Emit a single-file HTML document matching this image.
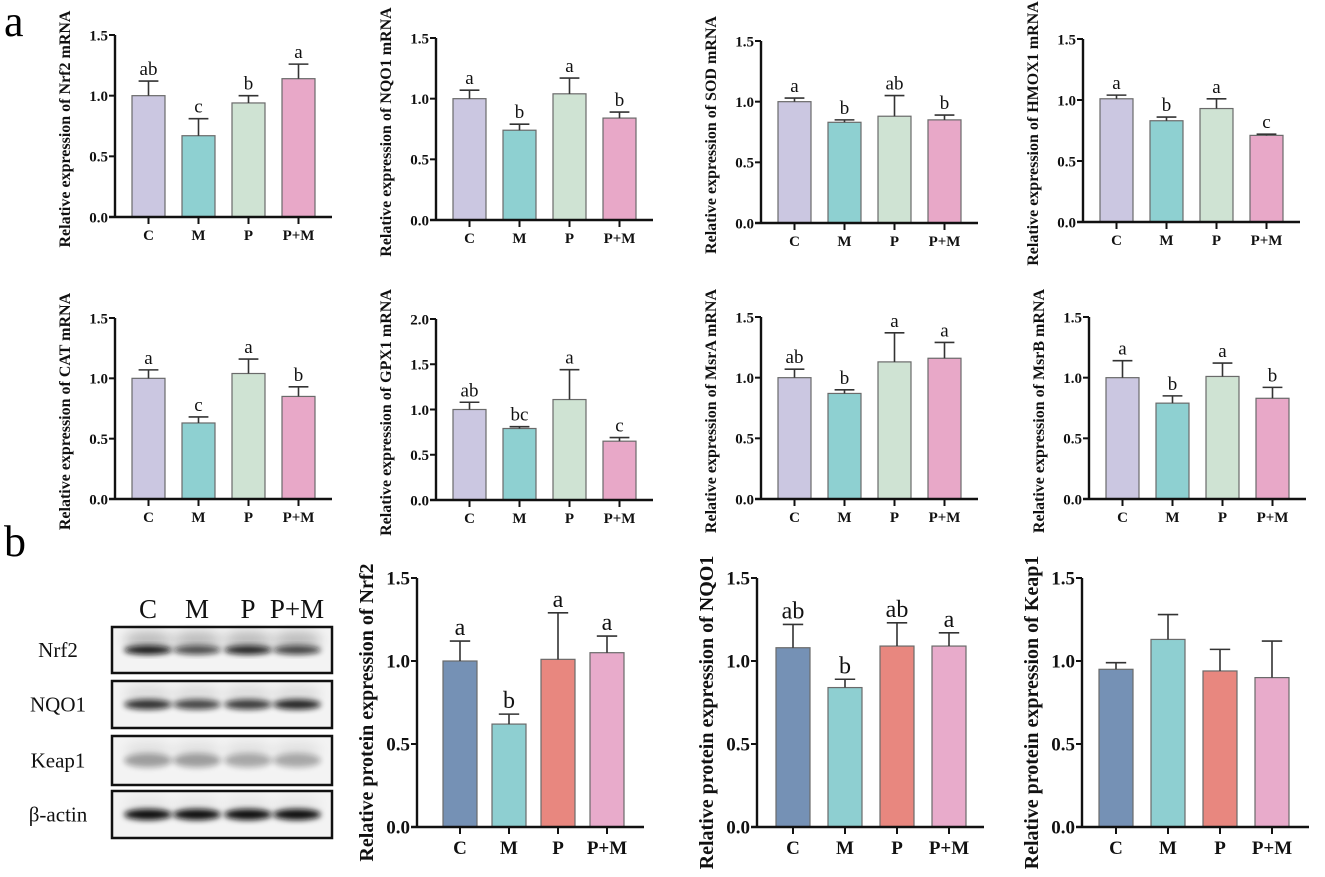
<!DOCTYPE html>
<html><head><meta charset="utf-8">
<style>
html,body{margin:0;padding:0;background:#fff;}
svg{display:block;}
text{font-family:"Liberation Serif",serif;}
</style></head>
<body>
<svg id="fig" width="1325" height="877" viewBox="0 0 1325 877" xmlns="http://www.w3.org/2000/svg">
<defs>
<filter id="blur" x="-20%" y="-50%" width="140%" height="200%"><feGaussianBlur stdDeviation="3"/></filter>
<filter id="blur2" x="-20%" y="-50%" width="140%" height="200%"><feGaussianBlur stdDeviation="6"/></filter>
</defs>
<text x="4" y="36" font-size="44">a</text>
<text x="4" y="556" font-size="44">b</text>
<g id="blot"></g>
<g id="charts"></g>
</svg>
<script>
const categories = ["C","M","P","P+M"];
const nrf2Vals = [1.0,0.67,0.94,1.14], nrf2Err = [0.12,0.14,0.06,0.12], nrf2Let = ["ab","c","b","a"];
const nqo1Vals = [1.0,0.74,1.04,0.84], nqo1Err = [0.07,0.05,0.13,0.05], nqo1Let = ["a","b","a","b"];
const sodVals = [1.0,0.83,0.88,0.85], sodErr = [0.03,0.02,0.17,0.04], sodLet = ["a","b","ab","b"];
const hmoxVals = [1.01,0.83,0.93,0.71], hmoxErr = [0.03,0.03,0.08,0.01], hmoxLet = ["a","b","a","c"];
const catVals = [1.0,0.63,1.04,0.85], catErr = [0.07,0.05,0.12,0.08], catLet = ["a","c","a","b"];
const gpxVals = [1.0,0.79,1.11,0.65], gpxErr = [0.08,0.02,0.33,0.04], gpxLet = ["ab","bc","a","c"];
const msraVals = [1.0,0.87,1.13,1.16], msraErr = [0.07,0.03,0.24,0.13], msraLet = ["ab","b","a","a"];
const msrbVals = [1.0,0.79,1.01,0.83], msrbErr = [0.14,0.06,0.11,0.09], msrbLet = ["a","b","a","b"];
const pNrf2Vals = [1.0,0.62,1.01,1.05], pNrf2Err = [0.12,0.06,0.28,0.10], pNrf2Let = ["a","b","a","a"];
const pNqo1Vals = [1.08,0.84,1.09,1.09], pNqo1Err = [0.14,0.05,0.14,0.08], pNqo1Let = ["ab","b","ab","a"];
const keapVals = [0.95,1.13,0.94,0.90], keapErr = [0.04,0.15,0.13,0.22], keapLet = ["","","",""];
const ticks15 = ["0.0","0.5","1.0","1.5"];
const ticks20 = ["0.0","0.5","1.0","1.5","2.0"];

const NS = "http://www.w3.org/2000/svg";
const mColors = ["#cbc7e1","#8ed0d1","#cfe3d3","#e8a8c8"];
const pColors = ["#7591b5","#8ecfd1","#e8877f","#e8abcb"];
function mk(tag, attrs, parent){const e=document.createElementNS(NS,tag);for(const k in attrs)e.setAttribute(k,attrs[k]);parent.appendChild(e);return e;}

function panel(o){
  const root=document.getElementById('charts');
  const g=mk('g',{},root);
  
  
  const ymax=parseFloat(o.ticks[o.ticks.length-1]);
  const y=v=>o.zero-(v/ymax)*(o.zero-o.top);
  const xBar=i=>o.ax+o.off+i*o.pitch;
  o.vals.forEach((v,i)=>{
    const x=xBar(i), cx=x+o.bw/2, yt=y(v), ye=y(v+o.err[i]);
    const b=mk('rect',{x:x,y:yt,width:o.bw,height:o.zero-yt,fill:o.colors[i],stroke:"#6a6a6a","stroke-width":1.2},g);
    
    
    const el=mk('path',{d:`M${cx} ${yt}V${ye}M${cx-o.bw*0.3} ${ye}H${cx+o.bw*0.3}`,stroke:"#333","stroke-width":1.6,fill:"none"},g);
    
    
    if(o.lets[i]){
      const t=mk('text',{x:cx,y:ye-6,"font-size":o.lf,"text-anchor":"middle",fill:"#111"},g);
      t.textContent=o.lets[i];
      
      
    }
    const tk=mk('line',{x1:cx,y1:o.zero,x2:cx,y2:o.zero+7,stroke:"#111","stroke-width":2},g);
    
    
    const ct=mk('text',{x:cx,y:o.zero+o.cf+8,"font-size":o.cf,"font-weight":"bold","text-anchor":"middle",fill:"#111"},g);
    ct.textContent=categories[i];
    
    
  });
  const ya=mk('line',{x1:o.ax,y1:o.top,x2:o.ax,y2:o.zero+1,stroke:"#111","stroke-width":2.4},g);
  
  
  const xa=mk('line',{x1:o.ax-6,y1:o.zero,x2:o.end,y2:o.zero,stroke:"#111","stroke-width":2.4},g);
  
  
  o.ticks.forEach(tl=>{
    const yy=y(parseFloat(tl));
    const l=mk('line',{x1:o.ax-6,y1:yy,x2:o.ax,y2:yy,stroke:"#111","stroke-width":2},g);
    
    
    const t=mk('text',{x:o.ax-7,y:yy+o.tf*0.35,"font-size":o.tf,"font-weight":"bold","text-anchor":"end",fill:"#111"},g);
    t.textContent=tl;
    
    
  });
  const tx=o.ax-o.tOff, ty=(o.top+o.zero)/2+o.ttOff;
  const tt=mk('text',{x:tx,y:ty,"font-size":o.ttf,"font-weight":"bold","text-anchor":"middle",fill:"#111",transform:`rotate(-90 ${tx} ${ty})`},g);
  tt.textContent=o.title;
  
  
}

const m={off:17,bw:33,pitch:50,tf:15,cf:15,lf:19,ttf:16,colors:mColors,tOff:45,ttOff:3};
const mw=217;
[
 {name:"nrf2-mrna-chart",ax:115,top:35,zero:217,vals:nrf2Vals,err:nrf2Err,lets:nrf2Let,title:"Relative expression of Nrf2 mRNA",ticks:ticks15},
 {name:"nqo1-mrna-chart",ax:436,top:38,zero:220,vals:nqo1Vals,err:nqo1Err,lets:nqo1Let,title:"Relative expression of NQO1 mRNA",ticks:ticks15},
 {name:"sod-mrna-chart",ax:761,top:41,zero:223,vals:sodVals,err:sodErr,lets:sodLet,title:"Relative expression of SOD mRNA",ticks:ticks15},
 {name:"hmox1-mrna-chart",ax:1083,top:39,zero:222,vals:hmoxVals,err:hmoxErr,lets:hmoxLet,title:"Relative expression of HMOX1 mRNA",ticks:ticks15},
 {name:"cat-mrna-chart",ax:115,top:318,zero:499,vals:catVals,err:catErr,lets:catLet,title:"Relative expression of CAT mRNA",ticks:ticks15},
 {name:"gpx1-mrna-chart",ax:436,top:319,zero:500,vals:gpxVals,err:gpxErr,lets:gpxLet,title:"Relative expression of GPX1 mRNA",ticks:ticks20},
 {name:"msra-mrna-chart",ax:761,top:317,zero:499,vals:msraVals,err:msraErr,lets:msraLet,title:"Relative expression of MsrA mRNA",ticks:ticks15},
 {name:"msrb-mrna-chart",ax:1089,top:317,zero:499,vals:msrbVals,err:msrbErr,lets:msrbLet,title:"Relative expression of MsrB mRNA",ticks:ticks15}
].forEach(p=>panel(Object.assign({},m,p,{end:p.ax+mw})));

const pp={bw:34,tf:19,cf:19,lf:24,ttf:20,colors:pColors,top:578,zero:827,ttOff:10,tOff:44};
[
 {name:"nrf2-protein-chart",ax:417,off:26,pitch:49,vals:pNrf2Vals,err:pNrf2Err,lets:pNrf2Let,title:"Relative protein expression of Nrf2"},
 {name:"nqo1-protein-chart",ax:757,off:19,pitch:52,vals:pNqo1Vals,err:pNqo1Err,lets:pNqo1Let,title:"Relative protein expression of NQO1"},
 {name:"keap1-protein-chart",ax:1082,off:17,pitch:52,vals:keapVals,err:keapErr,lets:keapLet,title:"Relative protein expression of Keap1"}
].forEach(p=>panel(Object.assign({},pp,p,{end:p.ax+227,ticks:ticks15})));

// Western blot
const blot=document.getElementById('blot');
const lanesX=[148,197,248,297];
const laneLbl=["C","M","P","P+M"];
laneLbl.forEach((l,i)=>{
  const t=mk('text',{x:lanesX[i],y:618,"font-size":27,"text-anchor":"middle",fill:"#111"},blot);
  t.textContent=l;
  
  
});
const rows=[
 {n:"Nrf2",y:627,h:46,band:[0.95,0.7,0.9,0.75],bh:7,bg:0.25},
 {n:"NQO1",y:681,h:47,band:[0.85,0.75,0.8,0.9],bh:8,bg:0.1},
 {n:"Keap1",y:736,h:49,band:[0.35,0.35,0.3,0.3],bh:12,bg:0.08},
 {n:"β-actin",y:791,h:47,band:[1,1,1,1],bh:9,bg:0.05}
];
rows.forEach(r=>{
  const g=mk('g',{},blot);
  
  
  mk('rect',{x:112,y:r.y,width:220,height:r.h,fill:"#f3f3f3"},g);
  const cy=r.y+r.h/2;
  lanesX.forEach((x,i)=>{
    if(r.bg>0) mk('ellipse',{cx:x,cy:cy-10,rx:24,ry:8,fill:"#000",opacity:r.bg,filter:"url(#blur2)"},g);
    mk('ellipse',{cx:x,cy:cy,rx:24,ry:r.bh/2+1,fill:"#111",opacity:r.band[i],filter:"url(#blur)"},g);
  });
  mk('rect',{x:112,y:r.y,width:220,height:r.h,fill:"none",stroke:"#111","stroke-width":2.5},g);
  const t=mk('text',{x:58,y:cy+7,"font-size":21,"text-anchor":"middle",fill:"#111"},g);
  t.textContent=r.n;
  
  
});
</script>
</body></html>
